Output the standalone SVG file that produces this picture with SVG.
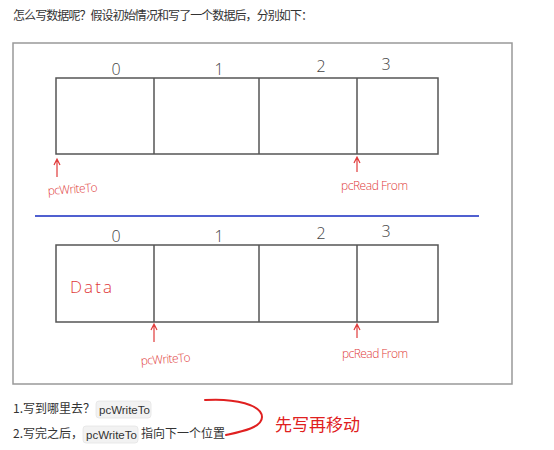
<svg xmlns="http://www.w3.org/2000/svg" width="554" height="450" viewBox="0 0 554 450">
<style>
.cjk{font-family:"Noto Sans CJK SC","Noto Sans",sans-serif;fill:#333;font-size:12px}
.box{fill:none;stroke:#555;stroke-width:1.5}
.idx{font-family:"Open Sans","Liberation Sans",sans-serif;font-size:16px;fill:#444;font-weight:300}
.hand{font-family:"Open Sans","Liberation Sans",sans-serif;font-size:12px;fill:#e03a3a;font-weight:300}
.arr{stroke:#e03a3a;stroke-width:1.2;fill:none}
.chip{fill:#f2f2f2;stroke:#e4e4e4;stroke-width:0.8}
.code{font-family:"Liberation Sans",sans-serif;font-size:11.5px;fill:#333}
</style>
<rect width="554" height="450" fill="#fff"/>
<text class="cjk" x="13" y="20" textLength="300">怎么写数据呢？假设初始情况和写了一个数据后，分别如下：</text>
<rect x="13" y="43" width="499" height="341" fill="#fff" stroke="#999" stroke-width="1.5"/>
<g id="row1">
<rect class="box" x="56" y="78" width="382" height="76"/>
<line class="box" x1="154" y1="78" x2="154" y2="154"/>
<line class="box" x1="259" y1="78" x2="259" y2="154"/>
<line class="box" x1="357" y1="78" x2="357" y2="154"/>
<text class="idx" x="116" y="75" text-anchor="middle">0</text>
<text class="idx" x="219" y="75" text-anchor="middle">1</text>
<text class="idx" x="321" y="72" text-anchor="middle">2</text>
<text class="idx" x="386" y="70" text-anchor="middle">3</text>
</g>
<g id="row1-ptrs">
<path class="arr" d="M57 177 V160 M54 165 L57 159 L60 165"/>
<text class="hand" x="48" y="195" transform="rotate(-4 48 195)" textLength="50">pcWriteTo</text>
<path class="arr" d="M357 172 V158 M354 163 L357 157 L360 163"/>
<text class="hand" x="341" y="190" textLength="67">pcRead From</text>
</g>
<line x1="35" y1="216" x2="479" y2="216" stroke="#5060d0" stroke-width="2"/>
<g id="row2">
<rect class="box" x="56" y="245" width="382" height="77"/>
<line class="box" x1="154" y1="245" x2="154" y2="322"/>
<line class="box" x1="259" y1="245" x2="259" y2="322"/>
<line class="box" x1="357" y1="245" x2="357" y2="322"/>
<text class="idx" x="116" y="242" text-anchor="middle">0</text>
<text class="idx" x="219" y="242" text-anchor="middle">1</text>
<text class="idx" x="321" y="239" text-anchor="middle">2</text>
<text class="idx" x="386" y="237" text-anchor="middle">3</text>
<text class="hand" x="70" y="293" style="font-size:17px" textLength="42">Data</text>
</g>
<g id="row2-ptrs">
<path class="arr" d="M154 342 V325 M151 330 L154 324 L157 330"/>
<text class="hand" x="141" y="365" transform="rotate(-4 141 365)" textLength="50">pcWriteTo</text>
<path class="arr" d="M357 338 V325 M354 330 L357 324 L360 330"/>
<text class="hand" x="342" y="358" textLength="66">pcRead From</text>
</g>
<g id="notes">
<text class="cjk" x="13" y="413">1.写到哪里去？</text>
<rect class="chip" x="96" y="401" width="55" height="17" rx="3"/>
<text class="code" x="99" y="414">pcWriteTo</text>
<text class="cjk" x="13" y="438">2.写完之后，</text>
<rect class="chip" x="83" y="426" width="55" height="17" rx="3"/>
<text class="code" x="86" y="439">pcWriteTo</text>
<text class="cjk" x="141" y="438">指向下一个位置</text>
<path d="M205 400 C235 398 262 405 262 417 C262 428 240 432 226 435" fill="none" stroke="#e02020" stroke-width="2" stroke-linecap="round"/>
<text x="275" y="431" font-family="Noto Sans CJK SC,sans-serif" font-size="17" fill="#e02020">先写再移动</text>
</g>
</svg>
